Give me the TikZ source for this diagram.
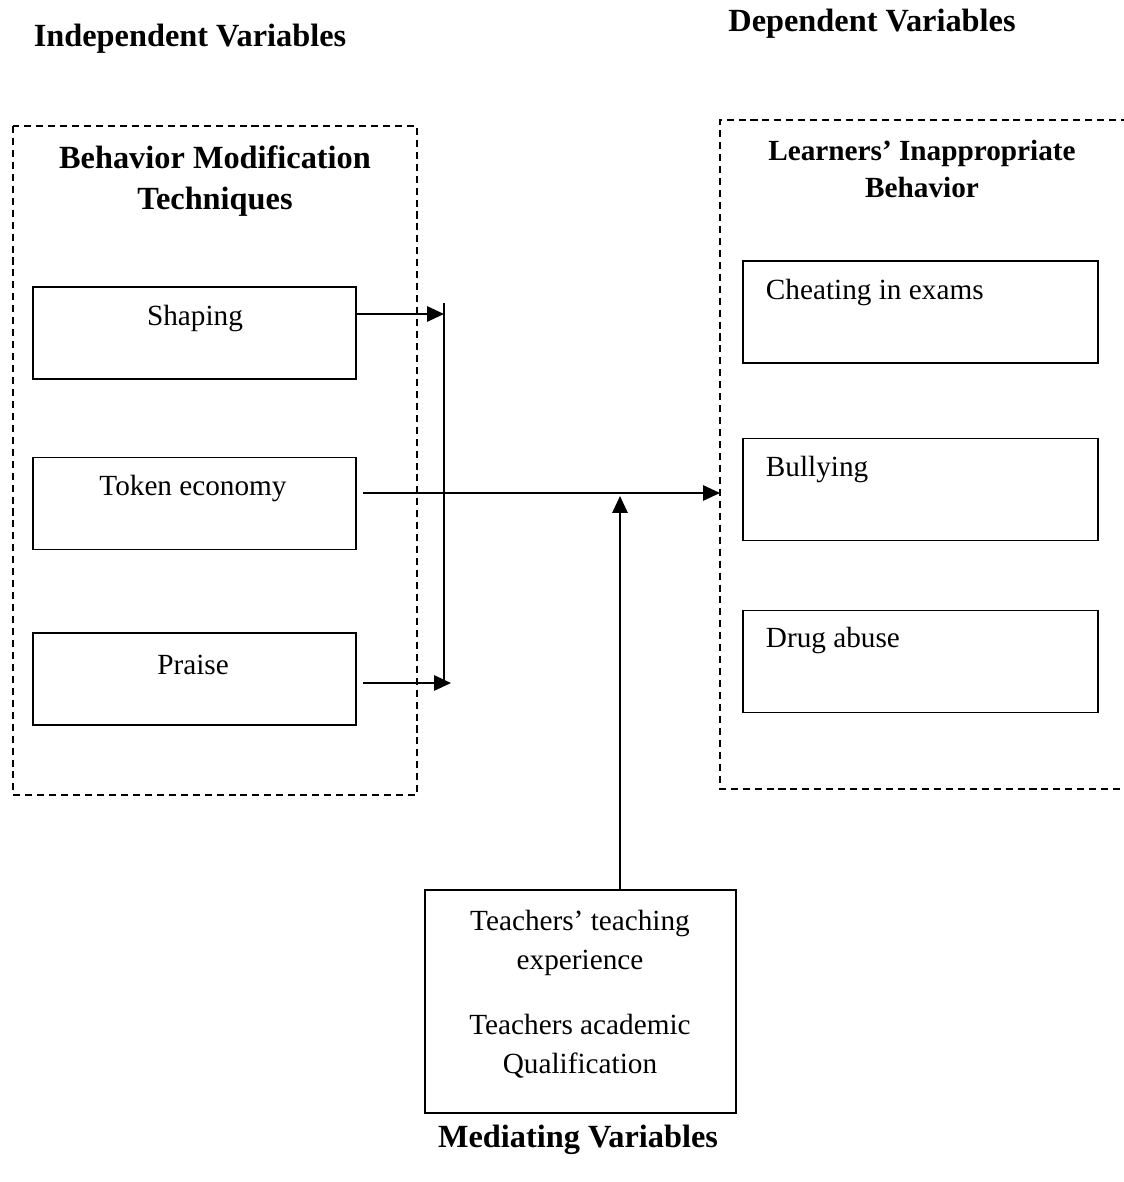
\documentclass[tikz,border=0pt]{standalone}
\usepackage{fontspec}
\setmainfont{Liberation Serif}
\usepackage{tikz}
\usetikzlibrary{positioning,arrows,arrows.meta}

\begin{document}
\begin{tikzpicture}[x=0.025cm,y=-0.025cm,line width=1.3pt,
	every node/.style={font=\fontsize{20.8}{25}\selectfont},
	box/.style={draw=black,rectangle,minimum width=323*0.025cm,minimum height=92*0.025cm,inner sep=0pt},
	rbox/.style={draw=black,rectangle,minimum width=355*0.025cm,minimum height=102*0.025cm,inner sep=0pt},
	group/.style={draw=black,dashed,dash pattern=on 5pt off 3.5pt},
	head/.style={font=\fontsize{23}{29}\selectfont\bfseries},
	tip/.style={-{Triangle[length=0.42cm,width=0.38cm]}}]
	\useasboundingbox (0,0) rectangle (1123,1182);

	%headings
	\node [head] (t1) at (190,39) {Independent Variables};
	\node [head] (t2) at (872,24) {Dependent Variables};
	\node [head] (t3) at (578,1140) {Mediating Variables};

	%dashed groups
	\draw [group] (13,126) rectangle (417,795);
	\draw [group] (1140,120) -- (720,120) -- (720,789) -- (1140,789);
	\node [head,align=center] (g1) at (215,181) {Behavior Modification\\Techniques};
	\node [head,align=center,font=\fontsize{20.8}{27}\selectfont\bfseries] (g2) at (922,169) {Learners' Inappropriate\\Behavior};

	%left nodes
	\node [box] (n1) at (194.5,333) {};
	\node [box] (n2) at (194.5,503.5) {};
	\node [box] (n3) at (194.5,679) {};
	\node (l1) at (195,319) {Shaping};
	\node (l2) at (193,489) {Token economy};
	\node (l3) at (193,665) {Praise};

	%right nodes
	\node [rbox] (n4) at (920.5,312) {};
	\node [rbox] (n5) at (920.5,489.5) {};
	\node [rbox] (n6) at (920.5,661.5) {};
	\node [anchor=west,inner sep=0pt] (l4) at (765,293) {Cheating in exams};
	\node [anchor=west,inner sep=0pt] (l5) at (765,470) {Bullying};
	\node [anchor=west,inner sep=0pt] (l6) at (765,641) {Drug abuse};

	%mediating node
	\node [draw=black,rectangle,minimum width=311*0.025cm,minimum height=223*0.025cm,inner sep=0pt] (n7) at (580.5,1001.5) {};
	\node [align=center,font=\fontsize{20.8}{27.7}\selectfont] (l7) at (580,943) {Teachers' teaching\\experience};
	\node [align=center,font=\fontsize{20.8}{27.7}\selectfont] (l8) at (580,1046) {Teachers academic\\Qualification};

	%edges
	\coordinate (v1) at (444,303);
	\coordinate (v2) at (444,683);
	\draw (v1) -- (v2);
	\coordinate (s1) at (356,314);
	\coordinate (s2) at (363,493);
	\coordinate (s3) at (363,683);
	\coordinate (e2) at (720,493);
	\coordinate (e3) at (451,683);
	\draw [tip] (s1) -- (s1 -| v1);
	\draw [tip] (s2) -- (e2);
	\draw [tip] (s3) -- (e3);
	\draw [tip] (n7.north -| 620,0) -- (620,496);
\end{tikzpicture}
\end{document}
